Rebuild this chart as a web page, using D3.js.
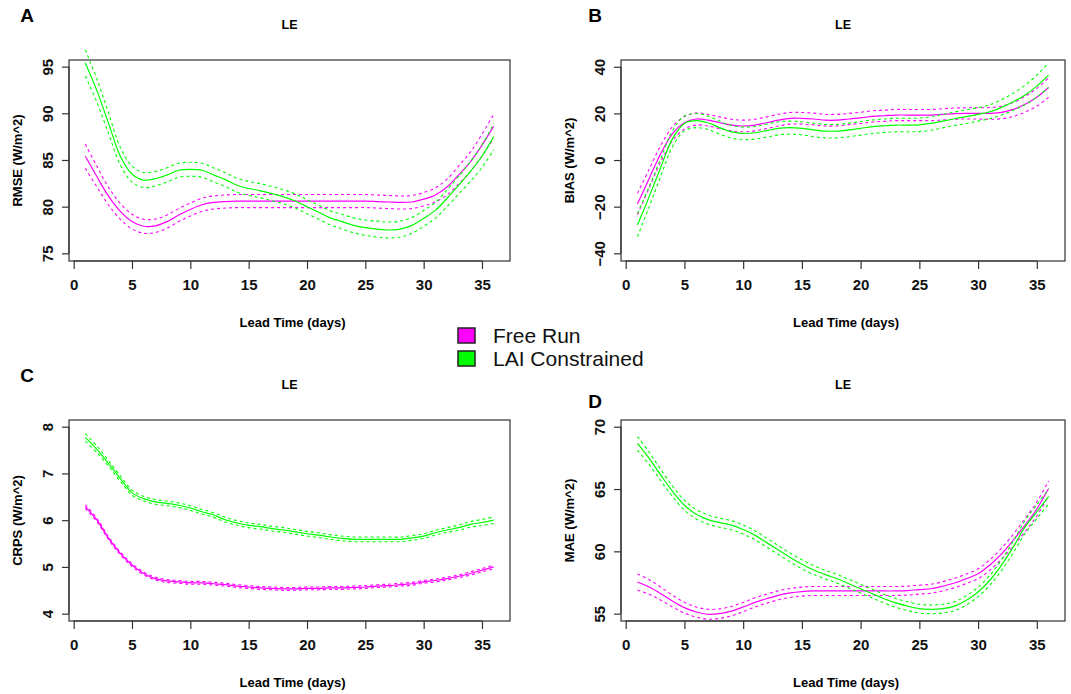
<!DOCTYPE html>
<html>
<head>
<meta charset="utf-8">
<script src="https://cdn.jsdelivr.net/npm/d3@7"></script>
<style>
body { margin: 0; background: #fff; }
svg text { font-family: "Liberation Sans", Arial, sans-serif; }
</style>
</head>
<body>
<div id="chart"></div>
<script>
var W = 1071, H = 694;

var days = d3.range(1, 37);
var xTicks = [0, 5, 10, 15, 20, 25, 30, 35];
var seriesNames = ["Free Run", "LAI Constrained"];
var seriesColors = ["#ff00ff", "#00ff00"];

/* A: RMSE */
var rmseFree = [85.4, 83.2, 81.1, 79.5, 78.4, 77.9, 77.95, 78.4, 79.1, 79.7, 80.2, 80.45, 80.55, 80.6, 80.6, 80.6,
  80.6, 80.6, 80.6, 80.6, 80.6, 80.6, 80.6, 80.6, 80.6, 80.55, 80.5, 80.45, 80.5, 80.8, 81.25, 82.1, 83.4, 84.8, 86.6, 88.6];
var rmseFreeCi = [1.3, 1.1, 0.95, 0.85, 0.78, 0.75, 0.72, 0.7, 0.7, 0.7, 0.7, 0.7, 0.7, 0.7, 0.7, 0.7, 0.7, 0.7,
  0.7, 0.7, 0.7, 0.7, 0.7, 0.7, 0.7, 0.7, 0.7, 0.7, 0.7, 0.72, 0.75, 0.85, 0.95, 1.05, 1.15, 1.3];
var rmseLai = [95.4, 92.4, 88.9, 85.4, 83.5, 82.85, 83.0, 83.4, 83.9, 84.0, 83.9, 83.4, 82.9, 82.3, 81.95, 81.7,
  81.4, 81.05, 80.6, 80.0, 79.4, 78.8, 78.4, 78.0, 77.75, 77.6, 77.5, 77.6, 78.0, 78.75, 79.6, 80.9, 82.3, 83.75, 85.4, 87.5];
var rmseLaiCi = [1.4, 1.25, 1.1, 0.95, 0.85, 0.8, 0.78, 0.76, 0.75, 0.75, 0.75, 0.75, 0.75, 0.75, 0.75, 0.75, 0.75, 0.75,
  0.75, 0.75, 0.75, 0.75, 0.78, 0.8, 0.82, 0.85, 0.85, 0.85, 0.85, 0.85, 0.85, 0.9, 0.95, 1.05, 1.2, 1.4];

/* B: BIAS */
var biasFree = [-18.9, -7.9, 2.9, 11.4, 16.0, 17.6, 17.1, 16.0, 15.0, 14.6, 15.0, 16.0, 17.1, 17.9, 17.9, 17.6,
  17.1, 17.1, 17.6, 18.1, 18.7, 19.0, 19.3, 19.3, 19.3, 19.3, 19.6, 19.9, 20.0, 20.0, 20.0, 20.4, 21.7, 23.9, 26.9, 31.1];
var biasFreeCi = [4.6, 4.0, 3.5, 3.0, 2.7, 2.6, 2.5, 2.5, 2.5, 2.5, 2.5, 2.5, 2.5, 2.5, 2.5, 2.5, 2.5, 2.5,
  2.4, 2.4, 2.4, 2.4, 2.4, 2.4, 2.4, 2.4, 2.4, 2.4, 2.4, 2.4, 2.5, 2.7, 3.0, 3.4, 3.8, 4.2];
var biasLai = [-27.9, -15.7, -2.9, 9.3, 15.7, 16.9, 16.0, 13.9, 12.1, 11.4, 11.7, 12.6, 13.6, 13.9, 13.6, 12.9,
  12.4, 12.4, 12.9, 13.6, 14.3, 14.7, 15.0, 15.0, 15.1, 15.7, 16.7, 17.7, 18.6, 19.6, 20.7, 22.6, 25.0, 27.9, 31.7, 36.4];
var biasLaiCi = [5.0, 4.3, 3.8, 3.4, 3.2, 3.0, 2.9, 2.8, 2.7, 2.7, 2.7, 2.8, 2.8, 2.8, 2.8, 2.9, 2.9, 2.9,
  2.9, 2.9, 2.9, 2.9, 2.9, 2.9, 2.9, 2.9, 2.9, 2.9, 2.9, 2.9, 3.0, 3.3, 3.7, 4.2, 4.7, 5.3];

/* C: CRPS */
var crpsFree = [6.29, 6.0, 5.61, 5.29, 5.04, 4.86, 4.75, 4.70, 4.68, 4.66, 4.66, 4.64, 4.62, 4.59, 4.57, 4.55,
  4.54, 4.53, 4.53, 4.54, 4.54, 4.55, 4.55, 4.56, 4.57, 4.59, 4.60, 4.62, 4.64, 4.68, 4.71, 4.75, 4.80, 4.86, 4.93, 5.0];
var crpsFreeCi = [0.04, 0.035, 0.03, 0.03, 0.03, 0.03, 0.03, 0.03, 0.03, 0.03, 0.03, 0.03, 0.03, 0.03, 0.03, 0.03, 0.03, 0.03,
  0.03, 0.03, 0.03, 0.03, 0.03, 0.03, 0.03, 0.03, 0.03, 0.03, 0.03, 0.03, 0.03, 0.03, 0.03, 0.035, 0.035, 0.04];
var crpsLai = [7.77, 7.51, 7.21, 6.89, 6.59, 6.46, 6.39, 6.36, 6.32, 6.26, 6.18, 6.11, 6.01, 5.94, 5.89, 5.86,
  5.82, 5.79, 5.75, 5.71, 5.68, 5.64, 5.61, 5.59, 5.59, 5.59, 5.59, 5.59, 5.62, 5.66, 5.73, 5.79, 5.84, 5.91, 5.95, 6.0];
var crpsLaiCi = [0.08, 0.07, 0.06, 0.06, 0.055, 0.05, 0.05, 0.05, 0.05, 0.05, 0.05, 0.05, 0.05, 0.05, 0.05, 0.05, 0.05, 0.05,
  0.05, 0.05, 0.05, 0.05, 0.05, 0.05, 0.05, 0.05, 0.05, 0.05, 0.05, 0.05, 0.05, 0.05, 0.055, 0.06, 0.065, 0.07];

/* D: MAE */
var maeFree = [57.54, 57.14, 56.6, 56.0, 55.48, 55.13, 54.95, 55.0, 55.2, 55.53, 55.9, 56.2, 56.47, 56.66, 56.77, 56.82,
  56.82, 56.82, 56.82, 56.82, 56.82, 56.82, 56.82, 56.85, 56.93, 57.0, 57.2, 57.46, 57.8, 58.2, 58.9, 59.8, 60.9, 62.1, 63.4, 65.04];
var maeFreeCi = [0.65, 0.58, 0.52, 0.47, 0.43, 0.4, 0.4, 0.38, 0.38, 0.37, 0.37, 0.36, 0.36, 0.36, 0.36, 0.36, 0.36, 0.36,
  0.36, 0.36, 0.36, 0.36, 0.36, 0.36, 0.36, 0.36, 0.37, 0.38, 0.38, 0.4, 0.42, 0.45, 0.48, 0.52, 0.56, 0.6];
var maeLai = [68.66, 67.46, 66.1, 64.8, 63.7, 62.98, 62.55, 62.3, 62.1, 61.75, 61.3, 60.7, 60.1, 59.5, 58.96, 58.5,
  58.13, 57.8, 57.4, 57.0, 56.6, 56.2, 55.86, 55.6, 55.4, 55.35, 55.4, 55.6, 56.07, 56.74, 57.68, 58.9, 60.36, 61.96, 63.17, 64.4];
var maeLaiCi = [0.55, 0.5, 0.45, 0.42, 0.4, 0.38, 0.37, 0.36, 0.36, 0.36, 0.36, 0.36, 0.36, 0.36, 0.36, 0.36, 0.35, 0.35,
  0.35, 0.35, 0.35, 0.35, 0.35, 0.35, 0.35, 0.35, 0.35, 0.36, 0.37, 0.38, 0.4, 0.43, 0.47, 0.52, 0.56, 0.6];

var panels = [
  {letter: "A", lx: 27, ly: 15, left: 69, right: 510, top: 60, bottom: 261,
   yDomain: [74.18, 95.71], yTicks: [75, 80, 85, 90, 95], yLabel: "RMSE (W/m^2)",
   free: rmseFree, freeCi: rmseFreeCi, lai: rmseLai, laiCi: rmseLaiCi},
  {letter: "B", lx: 595, ly: 15, left: 621, right: 1065, top: 60, bottom: 261,
   yDomain: [-43.3, 42.9], yTicks: [-40, -20, 0, 20, 40], yLabel: "BIAS (W/m^2)",
   free: biasFree, freeCi: biasFreeCi, lai: biasLai, laiCi: biasLaiCi},
  {letter: "C", lx: 27, ly: 375, left: 69, right: 510, top: 420, bottom: 621,
   yDomain: [3.843, 8.143], yTicks: [4, 5, 6, 7, 8], yLabel: "CRPS (W/m^2)",
   free: crpsFree, freeCi: crpsFreeCi, lai: crpsLai, laiCi: crpsLaiCi},
  {letter: "D", lx: 595, ly: 401, left: 621, right: 1065, top: 420, bottom: 621,
   yDomain: [54.41, 70.54], yTicks: [55, 60, 65, 70], yLabel: "MAE (W/m^2)",
   free: maeFree, freeCi: maeFreeCi, lai: maeLai, laiCi: maeLaiCi}
];

var svg = d3.select("#chart").append("svg")
  .attr("width", W).attr("height", H);

panels.forEach(drawPanel);
drawLegend();

function drawPanel(p) {
  var g = svg.append("g");
  var x = d3.scaleLinear().domain([-0.4, 37.4]).range([p.left, p.right]);
  var y = d3.scaleLinear().domain(p.yDomain).range([p.bottom, p.top]);
  var cx = (p.left + p.right) / 2;

  /* curves: main line solid, band edges dashed */
  var groups = [[p.free, p.freeCi, seriesColors[0]], [p.lai, p.laiCi, seriesColors[1]]];
  groups.forEach(function(s) {
    var vals = s[0], ci = s[1], col = s[2];
    var line = d3.line()
      .x(function(d, i) { return x(days[i]); })
      .curve(d3.curveCatmullRom);
    g.append("path").attr("d", line.y(function(d, i) { return y(vals[i] + ci[i]); })(vals))
      .attr("fill", "none").attr("stroke", col).attr("stroke-width", 1.1).attr("stroke-dasharray", "3,3");
    g.append("path").attr("d", line.y(function(d, i) { return y(vals[i] - ci[i]); })(vals))
      .attr("fill", "none").attr("stroke", col).attr("stroke-width", 1.1).attr("stroke-dasharray", "3,3");
    g.append("path").attr("d", line.y(function(d) { return y(d); })(vals))
      .attr("fill", "none").attr("stroke", col).attr("stroke-width", 1.2);
  });

  /* box */
  g.append("rect")
    .attr("x", p.left).attr("y", p.top)
    .attr("width", p.right - p.left).attr("height", p.bottom - p.top)
    .attr("fill", "none").attr("stroke", "#333").attr("stroke-width", 1.2);

  /* x axis */
  var xa = g.append("g").attr("transform", "translate(0," + p.bottom + ")")
    .call(d3.axisBottom(x).tickValues(xTicks).tickSize(8).tickPadding(10).tickSizeOuter(0));
  xa.select(".domain").remove();
  xa.append("line").attr("x1", x(0)).attr("x2", x(35)).attr("stroke", "#333").attr("stroke-width", 1.2);
  xa.selectAll(".tick line").attr("stroke", "#333").attr("stroke-width", 1.2);
  xa.selectAll(".tick text").attr("font-size", 15).attr("font-weight", "bold").attr("fill", "#111")
    .attr("font-family", "Liberation Sans, Arial, sans-serif");

  /* y axis */
  var ya = g.append("g").attr("transform", "translate(" + p.left + ",0)")
    .call(d3.axisLeft(y).tickValues(p.yTicks).tickSize(7).tickFormat(function(d) { return d < 0 ? "\u2212" + (-d) : d; }));
  ya.select(".domain").remove();
  ya.append("line").attr("y1", y(p.yTicks[0])).attr("y2", y(p.yTicks[p.yTicks.length - 1]))
    .attr("stroke", "#333").attr("stroke-width", 1.2);
  ya.selectAll(".tick line").attr("stroke", "#333").attr("stroke-width", 1.2);
  ya.selectAll(".tick text")
    .attr("x", null).attr("dy", null)
    .attr("transform", "translate(-22,0) rotate(-90)")
    .attr("text-anchor", "middle").attr("dominant-baseline", "central")
    .attr("font-size", 15).attr("font-weight", "bold").attr("fill", "#111")
    .attr("font-family", "Liberation Sans, Arial, sans-serif");

  /* titles */
  g.append("text").attr("x", cx).attr("y", p.top - 35)
    .attr("text-anchor", "middle").attr("dominant-baseline", "central")
    .attr("font-size", 12.5).attr("font-weight", "bold").text("LE");
  g.append("text").attr("x", cx + 3).attr("y", p.bottom + 61)
    .attr("text-anchor", "middle").attr("dominant-baseline", "central")
    .attr("font-size", 13).attr("font-weight", "bold").text("Lead Time (days)");
  g.append("text")
    .attr("transform", "translate(" + (p.left - 52) + "," + ((p.top + p.bottom) / 2) + ") rotate(-90)")
    .attr("text-anchor", "middle").attr("dominant-baseline", "central")
    .attr("font-size", 13).attr("font-weight", "bold").text(p.yLabel);
  g.append("text").attr("x", p.lx).attr("y", p.ly)
    .attr("text-anchor", "middle").attr("dominant-baseline", "central")
    .attr("font-size", 19).attr("font-weight", "bold").text(p.letter);
}

function drawLegend() {
  var leg = svg.append("g").selectAll("g")
    .data(seriesNames).enter().append("g")
    .attr("transform", function(d, i) { return "translate(458," + (328 + i * 23) + ")"; });
  leg.append("rect")
    .attr("width", 17).attr("height", 15)
    .attr("fill", function(d, i) { return seriesColors[i]; })
    .attr("stroke", "#222").attr("stroke-width", 1.5);
  leg.append("text")
    .attr("x", 35).attr("y", 15)
    .attr("font-size", 21).attr("fill", "#111")
    .text(function(d) { return d; });
}
</script>
</body>
</html>
